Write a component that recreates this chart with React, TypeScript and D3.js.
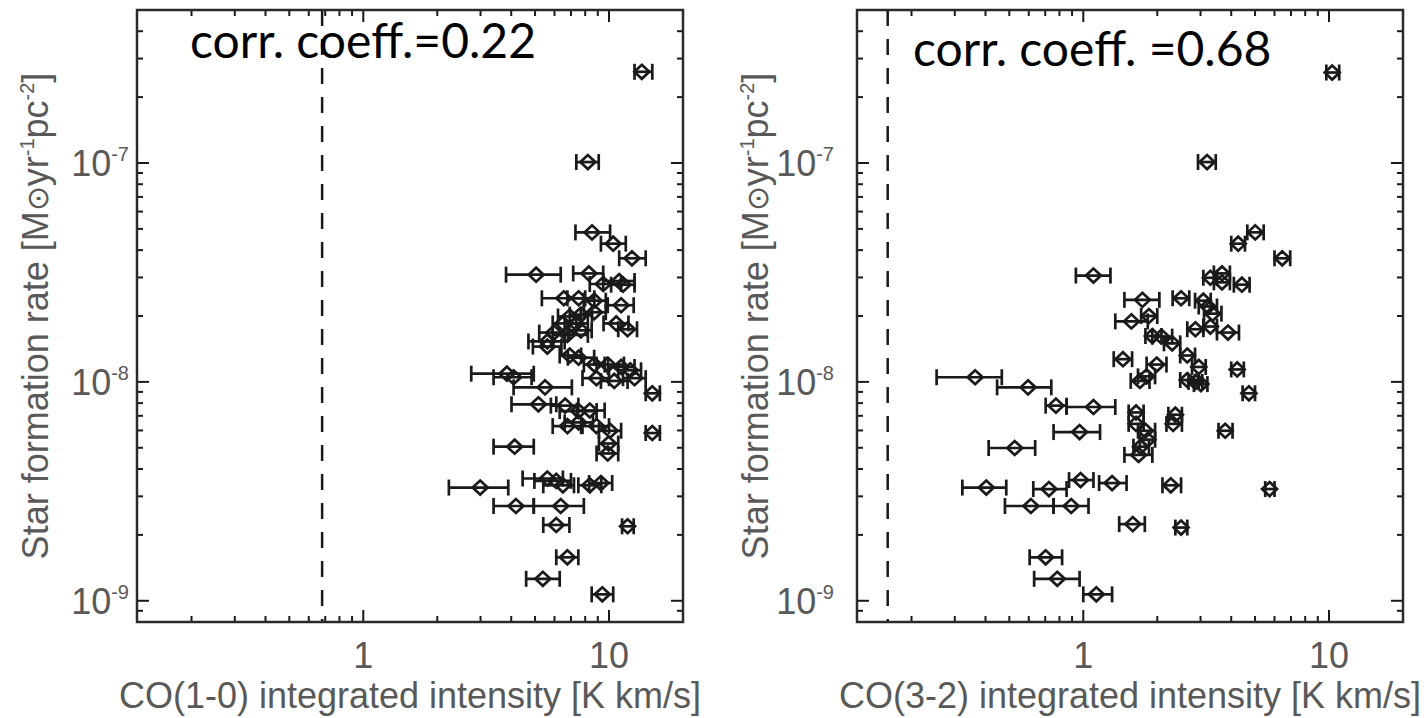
import React from 'react';
import * as d3 from 'd3';

// [x, y, xLow, xHigh]  x in K km/s, y in Msun/yr/pc^2
const co10Points: number[][] = [
  [13.6, 2.61e-7, 12.7, 15.0], [8.2, 1.01e-7, 7.36, 9.08], [8.53, 4.82e-8, 7.3, 10.1],
  [10.4, 4.28e-8, 9.27, 11.7], [12.4, 3.67e-8, 11.0, 14.1], [5.05, 3.09e-8, 3.81, 6.36],
  [8.28, 3.13e-8, 7.15, 9.47], [9.47, 2.8e-8, 8.35, 11.2], [11.0, 2.89e-8, 9.47, 12.7],
  [11.4, 2.78e-8, 10.2, 12.7], [6.55, 2.41e-8, 5.33, 8.0], [7.52, 2.41e-8, 6.77, 8.71],
  [8.71, 2.35e-8, 7.9, 9.7], [11.2, 2.24e-8, 9.88, 12.6], [6.92, 1.99e-8, 6.2, 7.68],
  [7.68, 2.03e-8, 6.92, 8.53], [8.71, 2.08e-8, 7.9, 9.7], [6.49, 1.85e-8, 5.9, 7.36],
  [7.36, 1.85e-8, 6.6, 8.2], [10.7, 1.85e-8, 9.5, 12.0], [11.9, 1.74e-8, 10.9, 13.0],
  [5.97, 1.68e-8, 5.2, 6.8], [6.77, 1.64e-8, 5.9, 8.2], [7.68, 1.72e-8, 6.9, 8.5],
  [5.61, 1.53e-8, 4.7, 6.6], [5.61, 1.45e-8, 4.9, 6.4], [6.92, 1.32e-8, 6.3, 7.7],
  [7.52, 1.29e-8, 6.8, 8.7], [8.71, 1.2e-8, 7.9, 9.6], [9.88, 1.2e-8, 8.9, 11.5],
  [11.2, 1.17e-8, 9.9, 12.7], [12.2, 1.13e-8, 10.9, 13.5], [3.84, 1.09e-8, 2.75, 4.94],
  [4.09, 1.05e-8, 3.39, 4.84], [8.89, 1.04e-8, 7.8, 10.0], [10.5, 1.01e-8, 9.27, 11.9],
  [12.7, 1.04e-8, 11.4, 14.1], [5.49, 9.44e-9, 4.09, 7.06], [15.0, 8.87e-9, 14.1, 16.1],
  [5.16, 7.9e-9, 4.01, 6.1], [6.63, 7.79e-9, 5.8, 7.5], [7.52, 7.36e-9, 6.3, 8.9],
  [8.35, 7.4e-9, 7.4, 9.6], [6.77, 6.28e-9, 5.9, 7.7], [7.52, 6.53e-9, 6.6, 8.6],
  [8.89, 6.28e-9, 7.8, 10.0], [10.1, 5.98e-9, 9.1, 11.2], [15.0, 5.84e-9, 14.1, 16.1],
  [9.96, 5.23e-9, 9.1, 10.9], [9.88, 4.71e-9, 8.9, 10.9], [4.13, 5.06e-9, 3.39, 4.94],
  [2.99, 3.29e-9, 2.23, 3.89], [5.61, 3.62e-9, 4.45, 6.49], [6.1, 3.53e-9, 4.97, 7.0],
  [6.49, 3.37e-9, 5.4, 7.2], [8.35, 3.37e-9, 7.5, 9.3], [9.27, 3.45e-9, 8.3, 10.3],
  [4.18, 2.71e-9, 3.39, 4.94], [6.36, 2.71e-9, 4.94, 7.9], [6.1, 2.22e-9, 5.4, 6.9],
  [11.9, 2.19e-9, 11.3, 12.6], [6.77, 1.58e-9, 6.1, 7.5], [5.38, 1.26e-9, 4.6, 6.3],
  [9.39, 1.07e-9, 8.5, 10.4],
];

const co32Points: number[][] = [
  [10.3, 2.59e-7, 9.75, 11.0], [3.19, 1.01e-7, 2.93, 3.46], [5.01, 4.82e-8, 4.65, 5.42],
  [4.27, 4.28e-8, 4.0, 4.55], [6.45, 3.67e-8, 6.0, 6.95], [1.1, 3.06e-8, 0.933, 1.29],
  [3.29, 2.99e-8, 3.08, 3.5], [3.67, 3.13e-8, 3.4, 3.95], [3.67, 2.85e-8, 3.4, 3.95],
  [4.42, 2.78e-8, 4.1, 4.75], [1.74, 2.37e-8, 1.47, 2.04], [2.5, 2.41e-8, 2.31, 2.7],
  [3.08, 2.35e-8, 2.85, 3.3], [3.22, 2.21e-8, 2.95, 3.5], [3.36, 2.05e-8, 3.1, 3.65],
  [1.57, 1.89e-8, 1.35, 1.83], [1.85, 2.0e-8, 1.72, 2.0], [2.86, 1.74e-8, 2.65, 3.08],
  [3.29, 1.79e-8, 3.08, 3.5], [3.88, 1.68e-8, 3.5, 4.3], [1.91, 1.62e-8, 1.79, 2.08],
  [2.08, 1.61e-8, 1.91, 2.3], [2.3, 1.5e-8, 2.13, 2.48], [2.65, 1.32e-8, 2.48, 2.85],
  [1.45, 1.27e-8, 1.33, 1.58], [2.95, 1.17e-8, 2.77, 3.15], [4.23, 1.14e-8, 4.0, 4.5],
  [1.99, 1.2e-8, 1.81, 2.18], [1.81, 1.06e-8, 1.67, 1.96], [1.7, 1.01e-8, 1.56, 1.86],
  [2.65, 1.02e-8, 2.48, 2.95], [2.86, 1.0e-8, 2.68, 3.05], [3.01, 9.77e-9, 2.82, 3.2],
  [0.363, 1.05e-8, 0.253, 0.466], [0.596, 9.44e-9, 0.446, 0.741], [4.72, 8.87e-9, 4.45, 5.0],
  [0.774, 7.79e-9, 0.703, 0.855], [1.1, 7.68e-9, 0.855, 1.35], [1.64, 7.25e-9, 1.53, 1.76],
  [2.37, 7.08e-9, 2.22, 2.52], [1.64, 6.43e-9, 1.53, 1.76], [1.79, 5.98e-9, 1.67, 1.96],
  [2.32, 6.43e-9, 2.18, 2.52], [0.966, 5.9e-9, 0.757, 1.17], [3.78, 5.98e-9, 3.55, 4.05],
  [1.83, 5.44e-9, 1.7, 1.96], [1.71, 5.06e-9, 1.6, 1.85], [1.68, 4.64e-9, 1.47, 1.91],
  [0.526, 4.99e-9, 0.412, 0.637], [0.975, 3.56e-9, 0.875, 1.1], [1.31, 3.45e-9, 1.16, 1.5],
  [2.27, 3.37e-9, 2.1, 2.5], [0.403, 3.29e-9, 0.322, 0.486], [0.725, 3.24e-9, 0.626, 0.855],
  [5.73, 3.24e-9, 5.5, 6.0], [0.612, 2.71e-9, 0.48, 0.757], [0.893, 2.71e-9, 0.757, 1.05],
  [1.59, 2.24e-9, 1.4, 1.78], [2.5, 2.16e-9, 2.37, 2.65], [0.703, 1.58e-9, 0.605, 0.82],
  [0.784, 1.26e-9, 0.631, 0.966], [1.13, 1.07e-9, 1.0, 1.31],
];

const xTickValues = [1, 10];
const xTickLabels = ['1', '10'];
const yTickExponents = [-9, -8, -7];
const xDomain = [0.12, 20];
const yDomain = [8e-10, 5e-7];
const corrLabels = ['corr. coeff.=0.22', 'corr. coeff. =0.68'];
const xTitles = ['CO(1-0) integrated intensity [K km/s]', 'CO(3-2) integrated intensity [K km/s]'];
const thresholds = [0.68, 0.16];

const INK = '#1a1a1a';
const GRAY = '#595959';
const AXIS_FONT = '"Liberation Sans", Arial, Helvetica, sans-serif';

function minorValues(lo: number, hi: number) {
  const out: number[] = [];
  for (let e = -12; e <= 3; e++) {
    for (let m = 1; m <= 9; m++) {
      const v = m * Math.pow(10, e);
      if (v >= lo * 0.9999 && v <= hi * 1.0001) out.push(v);
    }
  }
  return out;
}

type PanelProps = {
  left: number;
  data: number[][];
  threshold: number;
  corr: string;
  corrX: number;
  corrY: number;
  xTitle: string;
  yLabelGap: number;
};

function Panel({ left, data, threshold, corr, corrX, corrY, xTitle, yLabelGap }: PanelProps) {
  const top = 10;
  const bottom = 622;
  const width = 546;
  const right = left + width;
  const x = d3.scaleLog().domain(xDomain).range([left, right]);
  const y = d3.scaleLog().domain(yDomain).range([bottom, top]);
  const xMinor = minorValues(xDomain[0], xDomain[1]);
  const yMinor = minorValues(yDomain[0], yDomain[1]);
  const isMajor = (v: number) => Math.abs(Math.log10(v) - Math.round(Math.log10(v))) < 1e-6;
  const diamond = (cx: number, cy: number) =>
    `M${cx - 7.5},${cy} L${cx},${cy - 7} L${cx + 7.5},${cy} L${cx},${cy + 7} Z`;
  const midY = (top + bottom) / 2;
  const midX = (left + right) / 2;
  return (
    <g>
      {/* ticks */}
      {xMinor.map((v, i) => {
        const len = isMajor(v) ? 12 : 6;
        const px = x(v);
        return (
          <g key={'xt' + i}>
            <line x1={px} x2={px} y1={bottom} y2={bottom - len} stroke={INK} strokeWidth={2} />
            <line x1={px} x2={px} y1={top} y2={top + len} stroke={INK} strokeWidth={2} />
          </g>
        );
      })}
      {yMinor.map((v, i) => {
        const len = isMajor(v) ? 12 : 6;
        const py = y(v);
        return (
          <g key={'yt' + i}>
            <line x1={left} x2={left + len} y1={py} y2={py} stroke={INK} strokeWidth={2} />
            <line x1={right} x2={right - len} y1={py} y2={py} stroke={INK} strokeWidth={2} />
          </g>
        );
      })}
      {/* threshold */}
      <line x1={x(threshold)} x2={x(threshold)} y1={top} y2={bottom} stroke={INK}
        strokeWidth={2.5} strokeDasharray="16,13" />
      {/* data */}
      {data.map((d, i) => {
        const cx = x(d[0]);
        const cy = y(d[1]);
        const xl = x(d[2]);
        const xh = x(d[3]);
        return (
          <g key={'p' + i} stroke={INK} strokeWidth={2.7} fill="none">
            <line x1={xl} x2={xh} y1={cy} y2={cy} />
            <line x1={xl} x2={xl} y1={cy - 8} y2={cy + 8} />
            <line x1={xh} x2={xh} y1={cy - 8} y2={cy + 8} />
            <path d={diamond(cx, cy)} />
          </g>
        );
      })}
      {/* frame */}
      <rect x={left} y={top} width={width} height={bottom - top} fill="none" stroke="#2a2a2a" strokeWidth={2.5} />
      {/* x tick labels */}
      {xTickValues.map((v, i) => (
        <text key={'xl' + i} x={x(v)} y={668} textAnchor="middle" fontSize={36}
          fontFamily={AXIS_FONT} fill={GRAY}>{xTickLabels[i]}</text>
      ))}
      {/* y tick labels */}
      {yTickExponents.map((e) => (
        <text key={'yl' + e} x={left - yLabelGap} y={y(Math.pow(10, e)) + 13} textAnchor="end"
          fontSize={36} fontFamily={AXIS_FONT} fill={GRAY}>
          <tspan>10</tspan>
          <tspan dy={-15} fontSize={20}>{String(e)}</tspan>
        </text>
      ))}
      {/* axis titles */}
      <text x={midX} y={708} textAnchor="middle" fontSize={36} fontFamily={AXIS_FONT} fill={GRAY}>
        {xTitle}
      </text>
      <text transform={`translate(${left - 89},${midY}) rotate(-90)`} textAnchor="middle"
        fontSize={36} fontFamily={AXIS_FONT} fill={GRAY}>
        <tspan>Star formation rate [M</tspan>
        <tspan fontSize={30}>⊙</tspan>
        <tspan>yr</tspan>
        <tspan dy={-14} fontSize={20}>-1</tspan>
        <tspan dy={14}>pc</tspan>
        <tspan dy={-14} fontSize={20}>-2</tspan>
        <tspan dy={14}>]</tspan>
      </text>
      {/* correlation */}
      <text x={corrX} y={corrY} fontSize={48} fontFamily="Lato, 'Open Sans', sans-serif" fill="#000">
        {corr}
      </text>
    </g>
  );
}

export default function App() {
  return (
    <svg width={1425} height={718} style={{ position: 'absolute', left: 0, top: 0, background: '#fff' }}>
      <rect x={0} y={0} width={1425} height={718} fill="#fff" />
      <Panel left={137} data={co10Points} threshold={thresholds[0]} corr={corrLabels[0]}
        corrX={190} corrY={58} xTitle={xTitles[0]} yLabelGap={8} />
      <Panel left={857} data={co32Points} threshold={thresholds[1]} corr={corrLabels[1]}
        corrX={913} corrY={66} xTitle={xTitles[1]} yLabelGap={23} />
    </svg>
  );
}
